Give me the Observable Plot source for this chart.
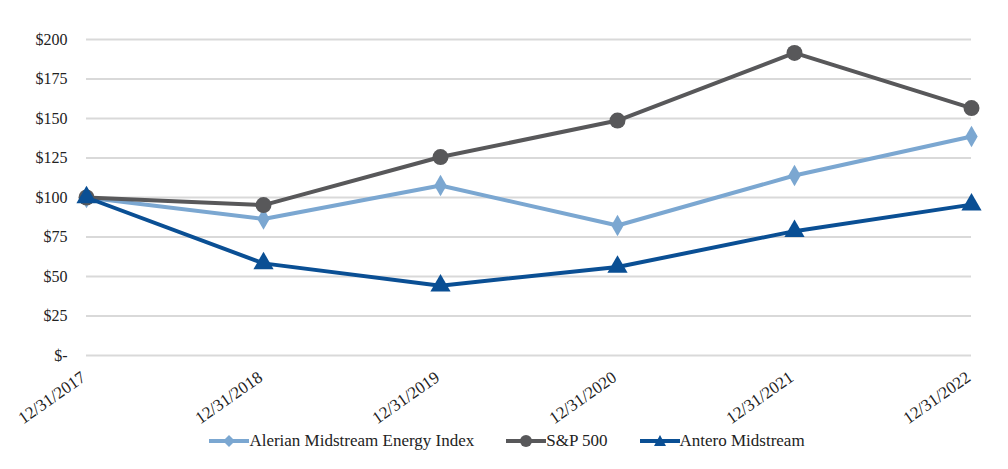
<!DOCTYPE html>
<html>
<head>
<meta charset="utf-8">
<script src="https://cdn.jsdelivr.net/npm/d3@7"></script>
<script src="https://cdn.jsdelivr.net/npm/@observablehq/plot@0.6"></script>
<style>
  html, body { margin: 0; padding: 0; background: #fff; }
  body { width: 1008px; height: 469px; overflow: hidden; font-family: "Liberation Serif", "Times New Roman", Times, serif; }
  #chart { height: 440px; }
  #legend { display: flex; justify-content: center; align-items: center; height: 30px; margin-top: -14px; font-size: 17px; color: #222; padding-left: 6px; position: relative; }
  .item { display: flex; align-items: center; margin: 0 16px; }
  .item svg { margin-right: 0; }
  #chart svg, #chart svg text { font-family: "Liberation Serif", "Times New Roman", Times, serif !important; }
</style>
</head>
<body>
<div id="chart"></div>
<div id="legend"></div>
<script>
const dates = ["12/31/2017", "12/31/2018", "12/31/2019", "12/31/2020", "12/31/2021", "12/31/2022"];
const seriesNames = ["Alerian Midstream Energy Index", "S&P 500", "Antero Midstream"];
const alerian = [100, 86.4, 107.6, 82.3, 113.9, 138.6];
const sp500 = [100, 95.2, 125.6, 148.7, 191.5, 156.6];
const antero = [100, 58.3, 44.2, 56.0, 78.7, 95.5];
const yTicks = [0, 25, 50, 75, 100, 125, 150, 175, 200];
const colors = ["#7ba7d1", "#58585a", "#0a4f94"];
const symbols = ["diamond", "circle", "triangle"];
const radii = [6.5, 8, 7.5];

const values = [alerian, sp500, antero];
const data = [];
seriesNames.forEach((s, i) => values[i].forEach((v, j) => data.push({series: s, date: dates[j], value: v})));

const fmt = v => v === 0 ? "$-" : "$" + v;

const chart = Plot.plot({
  width: 1008,
  height: 440,
  marginLeft: 86,
  marginRight: 37,
  marginTop: 39,
  marginBottom: 85,
  style: {fontSize: "16px", color: "#222", background: "#fff", overflow: "visible"},
  x: {type: "point", domain: dates, padding: 0},
  y: {domain: [0, 200], ticks: yTicks},
  marks: [
    Plot.gridY(yTicks, {stroke: "#d9d9d9", strokeOpacity: 1, strokeWidth: 2}),
    Plot.axisY(yTicks, {tickSize: 0, tickPadding: 19, tickFormat: fmt, label: null, fontSize: 16}),
    Plot.axisX({tickSize: 0, tickRotate: -35, tickPadding: 20, dx: -3, label: null, fontSize: 17}),
    Plot.line(data, {x: "date", y: "value", z: "series", stroke: d => colors[seriesNames.indexOf(d.series)], strokeWidth: 4, strokeLinejoin: "miter"}),
    ...seriesNames.map((s, i) => Plot.dot(data.filter(d => d.series === s), {x: "date", y: "value", fill: colors[i], symbol: symbols[i], r: radii[i]}))
  ]
});
document.getElementById("chart").appendChild(chart);

const legend = document.getElementById("legend");
seriesNames.forEach((s, i) => {
  const item = document.createElement("div");
  item.className = "item";
  const sym = symbols[i];
  let marker;
  if (sym === "circle") marker = `<circle cx="20" cy="8" r="6" fill="${colors[i]}"/>`;
  else if (sym === "diamond") marker = `<path d="M20,2 L26,8 L20,14 L14,8 Z" fill="${colors[i]}"/>`;
  else marker = `<path d="M20,2 L26,13 L14,13 Z" fill="${colors[i]}"/>`;
  item.innerHTML = `<svg width="40" height="16"><line x1="0" x2="40" y1="8" y2="8" stroke="${colors[i]}" stroke-width="4"/>${marker}</svg><span>${s}</span>`;
  legend.appendChild(item);
});
</script>
</body>
</html>
